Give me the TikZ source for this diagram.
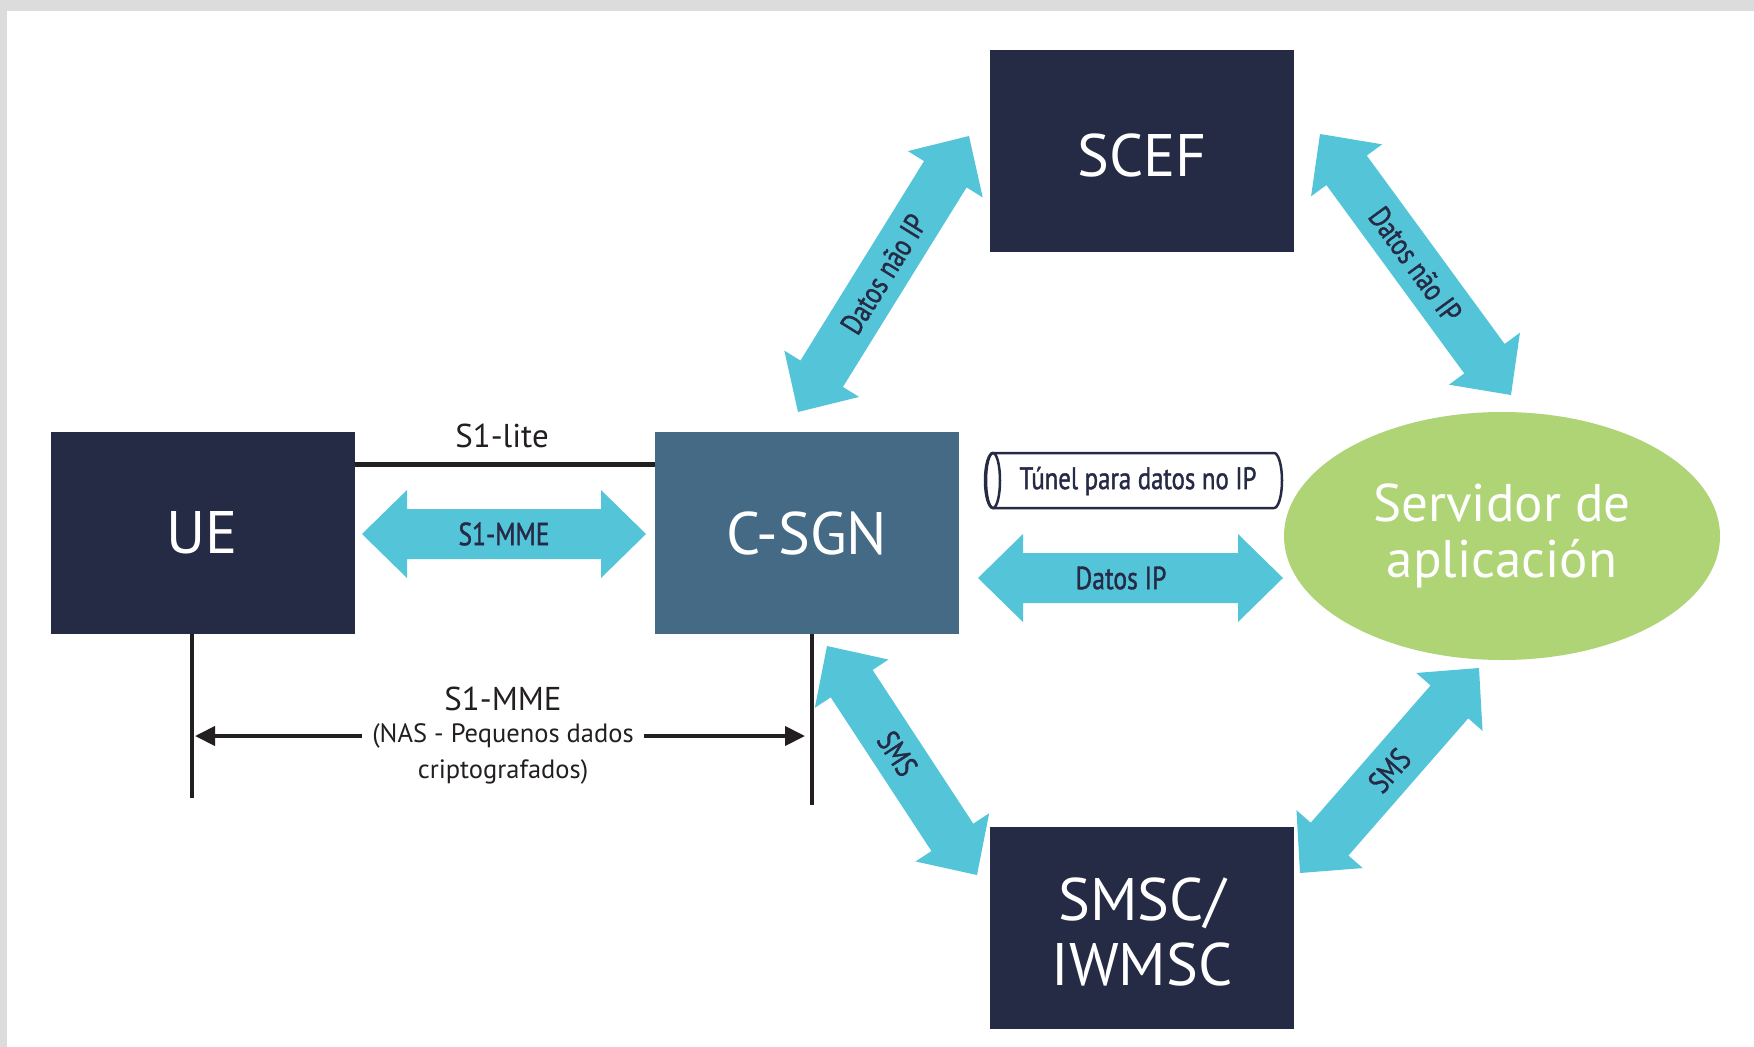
\documentclass[tikz,border=0pt]{standalone}
\usepackage{fontspec}
\setmainfont{PT Sans}
\newfontfamily\condfont[FakeStretch=0.8,FakeBold=1.2]{PT Sans}
\usetikzlibrary{calc,arrows.meta,shapes.geometric}

\definecolor{navy}{HTML}{252A45}
\definecolor{steel}{HTML}{446A85}
\definecolor{cyanarrow}{HTML}{54C5D8}
\definecolor{leaf}{HTML}{AFD475}
\definecolor{frame}{HTML}{DCDCDC}
\definecolor{ink}{HTML}{262A45}
\definecolor{linegray}{HTML}{231F20}

% double-headed block arrow between two named points
\newcommand\blockarrow[2]{%
  \coordinate (ba-a1) at ($(#1)!45pt!(#2)$);
  \coordinate (ba-b1) at ($(#2)!45pt!(#1)$);
  \fill[cyanarrow] (#1)
    -- ($(ba-a1)!44pt!90:(#2)$) -- ($(ba-a1)!25pt!90:(#2)$)
    -- ($(ba-b1)!25pt!-90:(#1)$) -- ($(ba-b1)!44pt!-90:(#1)$)
    -- (#2)
    -- ($(ba-b1)!44pt!90:(#1)$) -- ($(ba-b1)!25pt!90:(#1)$)
    -- ($(ba-a1)!25pt!-90:(#2)$) -- ($(ba-a1)!44pt!-90:(#2)$)
    -- cycle;
}

\begin{document}
\begin{tikzpicture}[x=1pt,y=-1pt,
  box/.style={fill=navy, text=white, minimum width=304pt, minimum height=202pt,
    inner sep=0pt, align=center, font=\fontsize{60}{65}\selectfont},
  arrowlabel/.style={text=ink, inner sep=0pt, font=\condfont\fontsize{32}{36}\selectfont},
  plainlabel/.style={text=linegray, inner sep=0pt},
  wire/.style={draw=linegray, line width=4.5pt}
]
\useasboundingbox (0,0) rectangle (1754,1047);
\fill[white] (0,0) rectangle (1754,1047);
\fill[frame] (0,0) rectangle (1754,11);
\fill[frame] (0,0) rectangle (7,1047);

% network elements
\node[box] (ue) at (202.5,533) {UE};
\node[box, fill=steel] (csgn) at (807,533) {C-SGN};
\node[box] (scef) at (1142,150.5) {};
\node[text=white, inner sep=0pt, font=\fontsize{60}{65}\selectfont] (sceftxt) at (1142,155) {SCEF};
\node[box] (smsc) at (1142,927.5) {};
\node[text=white, inner sep=0pt, align=center, font=\fontsize{60}{65}\selectfont] (smsctxt) at (1142,932) {SMSC/\\IWMSC};
\node[ellipse, fill=leaf, text=white, minimum width=436pt, minimum height=248pt,
  inner sep=0pt, align=center, font=\fontsize{53}{56}\selectfont]
  (as) at (1502,536) {Servidor de\\aplicación};

% S1-lite link
\draw[wire, line width=5pt] ($(ue.north east)+(0,33)$) coordinate (litea)
  -- ($(csgn.north west)+(0,33)$) coordinate (liteb);
\node[plainlabel, font=\fontsize{33}{36}\selectfont, anchor=base] (litelbl) at (502,447) {S1-lite};

% S1-MME block arrow
\coordinate (mmea) at (362,534);
\coordinate (mmeb) at (646,534);
\blockarrow{mmea}{mmeb}
\node[arrowlabel] (mmelbl) at ($(mmea)!0.5!(mmeb)$) {S1-MME};

% non-IP tunnel (horizontal cylinder)
\draw[draw=ink, line width=2.5pt, fill=white]
  (993,453) -- (1274,453) arc[start angle=90, end angle=-90, x radius=8pt, y radius=27.5pt]
  -- (993,508) arc[start angle=270, end angle=90, x radius=8pt, y radius=27.5pt] -- cycle;
\draw[draw=ink, line width=2.5pt] (993,480.5) ellipse[x radius=7pt, y radius=27.5pt];
\node[arrowlabel, font=\condfont\fontsize{31}{34}\selectfont] (tunnel) at (1138,481) {Túnel para datos no IP};

% IP data block arrow
\coordinate (ipa) at (978,578);
\coordinate (ipb) at (1283,578);
\blockarrow{ipa}{ipb}
\node[arrowlabel] (iplbl) at (1121,578) {Datos IP};

% non-IP data: C-SGN <-> SCEF and SCEF <-> application server
\coordinate (nipa) at (798,412);
\coordinate (nipb) at (969,136);
\blockarrow{nipa}{nipb}
\node[arrowlabel, font=\condfont\fontsize{31}{34}\selectfont, rotate=58.2] (niplbl)
  at ($(nipa)!0.5!(nipb)$) {Datos não IP};
\coordinate (nipc) at (1320,134);
\coordinate (nipd) at (1511,395);
\blockarrow{nipc}{nipd}
\node[arrowlabel, font=\condfont\fontsize{31}{34}\selectfont, rotate=-53.8] (niplbl2)
  at ($(nipc)!0.5!(nipd)$) {Datos não IP};

% SMS: C-SGN <-> SMSC and SMSC <-> application server
\coordinate (smsa) at (827,646);
\coordinate (smsb) at (977,875);
\blockarrow{smsa}{smsb}
\node[arrowlabel, font=\condfont\fontsize{31}{34}\selectfont, rotate=-56.8] (smslbl)
  at ($(smsa)!0.47!(smsb)$) {SMS};
\coordinate (smsc1) at (1300,873);
\coordinate (smsd) at (1479,668);
\blockarrow{smsc1}{smsd}
\node[arrowlabel, font=\condfont\fontsize{31}{34}\selectfont, rotate=48.9] (smslbl2)
  at ($(smsc1)!0.5!(smsd)$) {SMS};

% S1-MME signalling span (NAS small data)
\draw[wire] ([xshift=-10.5pt]ue.south) -- ++(0,164) coordinate (uedrop);
\draw[wire] ([xshift=5pt]csgn.south) -- ++(0,171) coordinate (csgndrop);
\coordinate (naspos) at (503,736);
\draw[wire, line width=4pt, {Triangle[length=20pt,width=19pt]}-{Triangle[length=20pt,width=19pt]}]
  ([xshift=3pt]uedrop |- naspos) -- ([xshift=-7pt]csgndrop |- naspos);
\node[plainlabel, fill=white, inner xsep=10pt, inner ysep=2pt,
  font=\fontsize{26.5}{30}\selectfont] (nas) at (naspos) {(NAS - Pequenos dados};
\node[plainlabel, font=\fontsize{26.5}{30}\selectfont] (nas2) at (503,772) {criptografados)};
\node[plainlabel, font=\fontsize{33}{36}\selectfont] (s1mme) at (503,699) {S1-MME};
\end{tikzpicture}
\end{document}
